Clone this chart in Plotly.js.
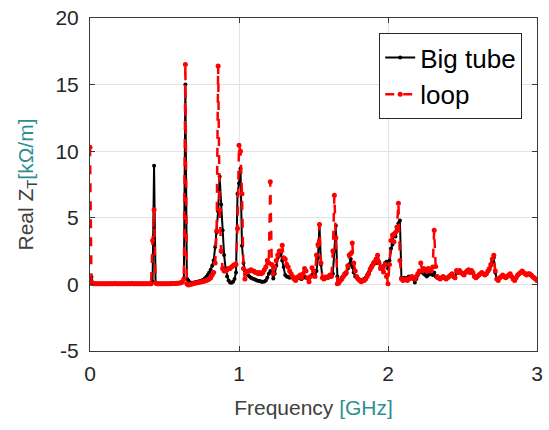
<!DOCTYPE html>
<html>
<head>
<meta charset="utf-8">
<script src="https://cdn.plot.ly/plotly-3.0.1.min.js"></script>
<style>html,body{margin:0;padding:0;background:#fff;}#chart{width:549px;height:430px;}</style>
</head>
<body>
<div id="chart"></div>
<script>
// Frequency in GHz
const freq = [
0.00,0.01,0.02,0.03,0.04,0.05,0.06,0.07,0.08,0.09,
0.10,0.11,0.12,0.13,0.14,0.15,0.16,0.17,0.18,0.19,
0.20,0.21,0.22,0.23,0.24,0.25,0.26,0.27,0.28,0.29,
0.30,0.31,0.32,0.33,0.34,0.35,0.36,0.37,0.38,0.39,
0.40,0.41,0.42,0.43,0.44,0.45,0.46,0.47,0.48,0.49,
0.50,0.51,0.52,0.53,0.54,0.55,0.56,0.57,0.58,0.59,
0.60,0.61,0.62,0.63,0.64,0.65,0.66,0.67,0.68,0.69,
0.70,0.71,0.72,0.73,0.74,0.75,0.76,0.77,0.78,0.79,
0.80,0.81,0.82,0.83,0.84,0.85,0.86,0.87,0.88,0.89,
0.90,0.91,0.92,0.93,0.94,0.95,0.96,0.97,0.98,0.99,
1.00,1.01,1.02,1.03,1.04,1.05,1.06,1.07,1.08,1.09,
1.10,1.11,1.12,1.13,1.14,1.15,1.16,1.17,1.18,1.19,
1.20,1.21,1.22,1.23,1.24,1.25,1.26,1.27,1.28,1.29,
1.30,1.31,1.32,1.33,1.34,1.35,1.36,1.37,1.38,1.39,
1.40,1.41,1.42,1.43,1.44,1.45,1.46,1.47,1.48,1.49,
1.50,1.51,1.52,1.53,1.54,1.55,1.56,1.57,1.58,1.59,
1.60,1.61,1.62,1.63,1.64,1.65,1.66,1.67,1.68,1.69,
1.70,1.71,1.72,1.73,1.74,1.75,1.76,1.77,1.78,1.79,
1.80,1.81,1.82,1.83,1.84,1.85,1.86,1.87,1.88,1.89,
1.90,1.91,1.92,1.93,1.94,1.95,1.96,1.97,1.98,1.99,
2.00,2.01,2.02,2.03,2.04,2.05,2.06,2.07,2.08,2.09,
2.10,2.11,2.12,2.13,2.14,2.15,2.16,2.17,2.18,2.19,
2.20,2.21,2.22,2.23,2.24,2.25,2.26,2.27,2.28,2.29,
2.30,2.31,2.32,2.33,2.34,2.35,2.36,2.37,2.38,2.39,
2.40,2.41,2.42,2.43,2.44,2.45,2.46,2.47,2.48,2.49,
2.50,2.51,2.52,2.53,2.54,2.55,2.56,2.57,2.58,2.59,
2.60,2.61,2.62,2.63,2.64,2.65,2.66,2.67,2.68,2.69,
2.70,2.71,2.72,2.73,2.74,2.75,2.76,2.77,2.78,2.79,
2.80,2.81,2.82,2.83,2.84,2.85,2.86,2.87,2.88,2.89,
2.90,2.91,2.92,2.93,2.94,2.95,2.96,2.97,2.98,2.99,
3.00];

// Real Z_T [kOhm/m], "Big tube"
const bigTube = [
0.05,0.55,0.1,0.05,0.04,0.05,0.05,0.04,0.05,0.05,
0.05,0.04,0.05,0.05,0.06,0.05,0.05,0.04,0.05,0.05,
0.05,0.05,0.04,0.05,0.05,0.05,0.06,0.05,0.05,0.05,
0.05,0.04,0.05,0.05,0.05,0.06,0.05,0.05,0.04,0.05,
0.05,0.05,0.2,8.9,0.1,0.05,0.05,0.05,0.05,0.05,
0.05,0.05,0.05,0.05,0.06,0.06,0.07,0.07,0.08,0.08,
0.09,0.1,0.15,0.4,15.0,0.45,0.3,0.15,0.12,0.13,
0.15,0.17,0.2,0.22,0.25,0.3,0.35,0.45,0.55,0.7,
0.9,1.1,1.4,1.8,2.8,3.9,5.5,8.1,6.0,4.06,
2.2,1.2,0.6,0.3,0.15,0.13,0.2,0.4,0.9,6.8,
7.6,8.7,2.9,1.6,1.0,0.8,0.7,0.6,0.5,0.45,
0.4,0.35,0.3,0.28,0.25,0.2,0.2,0.22,0.3,0.5,
0.8,1.0,0.9,0.45,0.8,1.4,2.0,2.2,2.3,1.8,
1.3,0.7,0.6,0.55,0.5,0.55,0.5,0.45,0.5,0.55,
0.5,0.45,0.4,0.5,0.6,0.5,0.45,0.5,0.6,0.7,
0.8,0.7,1.0,2.0,4.5,1.5,0.5,0.4,0.5,0.5,
0.5,0.55,0.6,0.8,2.5,4.4,0.6,0.1,0.3,0.5,
0.6,0.7,0.8,1.2,1.5,1.9,1.3,0.9,0.6,0.5,
0.4,0.35,0.3,0.35,0.4,0.5,0.7,0.9,1.2,1.4,
1.6,1.7,1.6,1.9,1.7,1.3,1.2,1.4,1.6,1.7,
1.2,1.8,2.7,3.0,3.8,3.6,4.2,4.6,4.8,0.5,
0.4,0.5,0.45,0.5,0.6,0.5,0.45,0.4,0.15,0.4,
0.7,0.9,1.0,0.9,0.8,0.7,0.6,0.7,0.8,0.8,
0.7,0.9,0.6,0.5,0.45,0.4,0.5,0.55,0.5,0.45,
0.5,0.6,0.7,0.75,0.6,0.55,0.9,0.85,1.0,0.9,
0.8,0.75,0.9,1.0,1.05,0.95,1.0,0.85,0.65,0.55,
0.6,0.7,0.8,0.85,0.8,0.75,0.8,0.95,1.1,1.4,
1.7,2.0,0.9,0.4,0.35,0.5,0.6,0.65,0.6,0.55,
0.6,0.7,0.75,0.6,0.45,0.35,0.5,0.65,0.8,0.9,
0.95,0.9,0.8,0.75,0.8,0.75,0.7,0.6,0.5,0.45,
0.35];

// Real Z_T [kOhm/m], "loop"
const loop = [
10.3,0.15,0.05,0.05,0.05,0.04,0.05,0.05,0.05,0.05,
0.05,0.05,0.04,0.05,0.05,0.05,0.05,0.06,0.05,0.05,
0.05,0.04,0.05,0.05,0.05,0.05,0.05,0.05,0.06,0.05,
0.05,0.05,0.05,0.04,0.05,0.05,0.05,0.05,0.05,0.05,
0.05,0.05,3.3,5.6,0.1,0.05,0.05,0.05,0.05,0.05,
0.05,0.05,0.05,0.05,0.05,0.06,0.06,0.07,0.08,0.09,
0.1,0.12,0.2,0.4,16.5,0.05,-0.05,0.0,0.02,0.05,
0.08,0.1,0.12,0.15,0.18,0.2,0.22,0.25,0.3,0.35,
0.4,0.5,0.7,0.9,1.6,4.0,16.4,5.6,2.5,1.2,
1.0,1.0,1.1,1.2,1.2,1.3,1.4,1.5,1.5,4.2,
10.45,10.0,6.8,1.2,0.4,0.9,1.0,1.0,1.1,1.0,
1.0,0.9,0.9,0.8,0.9,0.8,0.9,1.1,1.3,1.8,
1.6,7.7,1.5,0.8,1.3,1.8,2.2,2.5,2.5,2.93,
2.0,1.9,1.5,1.3,1.0,0.8,0.6,0.4,0.3,0.5,
0.6,0.7,0.5,0.8,1.2,1.0,0.5,0.2,0.6,1.25,
1.0,0.6,2.2,3.0,4.5,1.6,0.5,0.4,0.55,0.5,
0.6,0.7,0.6,2.5,6.7,3.5,0.05,0.1,0.3,0.4,
0.6,0.8,0.9,1.4,2.2,2.3,3.1,1.6,1.0,0.6,
0.4,0.3,0.2,0.3,0.3,0.4,0.6,0.8,1.1,1.3,
1.5,1.7,1.9,2.18,1.6,1.2,1.3,0.93,1.5,0.6,
0.05,1.5,3.3,3.7,3.2,3.9,4.3,6.1,1.8,0.43,
0.3,0.35,0.4,0.3,0.4,0.5,0.6,0.5,0.4,0.6,
0.8,1.0,1.6,1.0,1.2,1.1,1.0,1.2,1.1,1.0,
1.3,4.06,1.35,0.6,0.5,0.4,0.5,0.6,0.5,0.4,
0.5,0.6,0.7,0.8,0.6,0.5,1.05,0.9,1.05,0.9,
0.8,0.7,0.9,1.0,1.1,0.9,1.05,0.9,0.6,0.5,
0.6,0.7,0.8,0.9,0.8,0.7,0.8,1.0,1.2,1.5,
1.9,2.18,1.0,0.4,0.3,0.5,0.6,0.7,0.6,0.5,
0.6,0.7,0.8,0.6,0.4,0.3,0.5,0.7,0.8,0.9,
1.0,0.9,0.8,0.7,0.8,0.8,0.7,0.6,0.5,0.4,
0.3];

const seriesNames = ["Big tube", "loop"];
const xTicks = [0, 1, 2, 3];
const yTicks = [-5, 0, 5, 10, 15, 20];

const FONT = "Liberation Sans, Arial, Helvetica, sans-serif";
const TEAL = "#2e8f8f";
const GRAY = "#404040";

const traces = [
  {
    x: freq, y: bigTube, name: seriesNames[0], type: "scatter", mode: "lines+markers",
    line: {color: "#000000", width: 2},
    marker: {color: "#000000", size: 4}
  },
  {
    x: freq, y: loop, name: seriesNames[1], type: "scatter", mode: "lines+markers",
    line: {color: "#ff0000", width: 2.5, dash: "dash"},
    marker: {color: "#ff0000", size: 5}
  }
];

const axisCommon = {
  showline: true, linecolor: "#3a3a3a", linewidth: 1, mirror: "ticks",
  ticks: "inside", ticklen: 5, tickcolor: "#3a3a3a",
  showgrid: true, gridcolor: "#e3e3e3", gridwidth: 1,
  zeroline: false,
  tickfont: {family: FONT, size: 21, color: "#262626"}
};

const layout = {
  width: 549, height: 430,
  margin: {l: 90, r: 12, t: 18, b: 79},
  paper_bgcolor: "#ffffff", plot_bgcolor: "#ffffff",
  showlegend: true,
  legend: {
    x: 0.647, y: 0.955, xanchor: "left", yanchor: "top",
    bgcolor: "#ffffff", bordercolor: "#262626", borderwidth: 1,
    itemwidth: 30, tracegroupgap: 0,
    font: {family: FONT, size: 26, color: "#000000"}
  },
  xaxis: Object.assign({}, axisCommon, {
    range: [0, 3], tickvals: xTicks, ticktext: xTicks.map(String),
    ticklabelstandoff: 4,
    title: {text: 'Frequency <span style="color:' + TEAL + '">[GHz]</span>',
            font: {family: FONT, size: 21, color: GRAY}, standoff: 16}
  }),
  yaxis: Object.assign({}, axisCommon, {
    range: [-5, 20], tickvals: yTicks, ticktext: yTicks.map(String),
    ticklabelstandoff: 6,
    title: {text: 'Real Z<sub>T</sub><span style="color:' + TEAL + '">[kΩ/m]</span>',
            font: {family: FONT, size: 21, color: GRAY}, standoff: 16}
  })
};

Plotly.newPlot("chart", traces, layout, {displayModeBar: false, staticPlot: true});
</script>
</body>
</html>
